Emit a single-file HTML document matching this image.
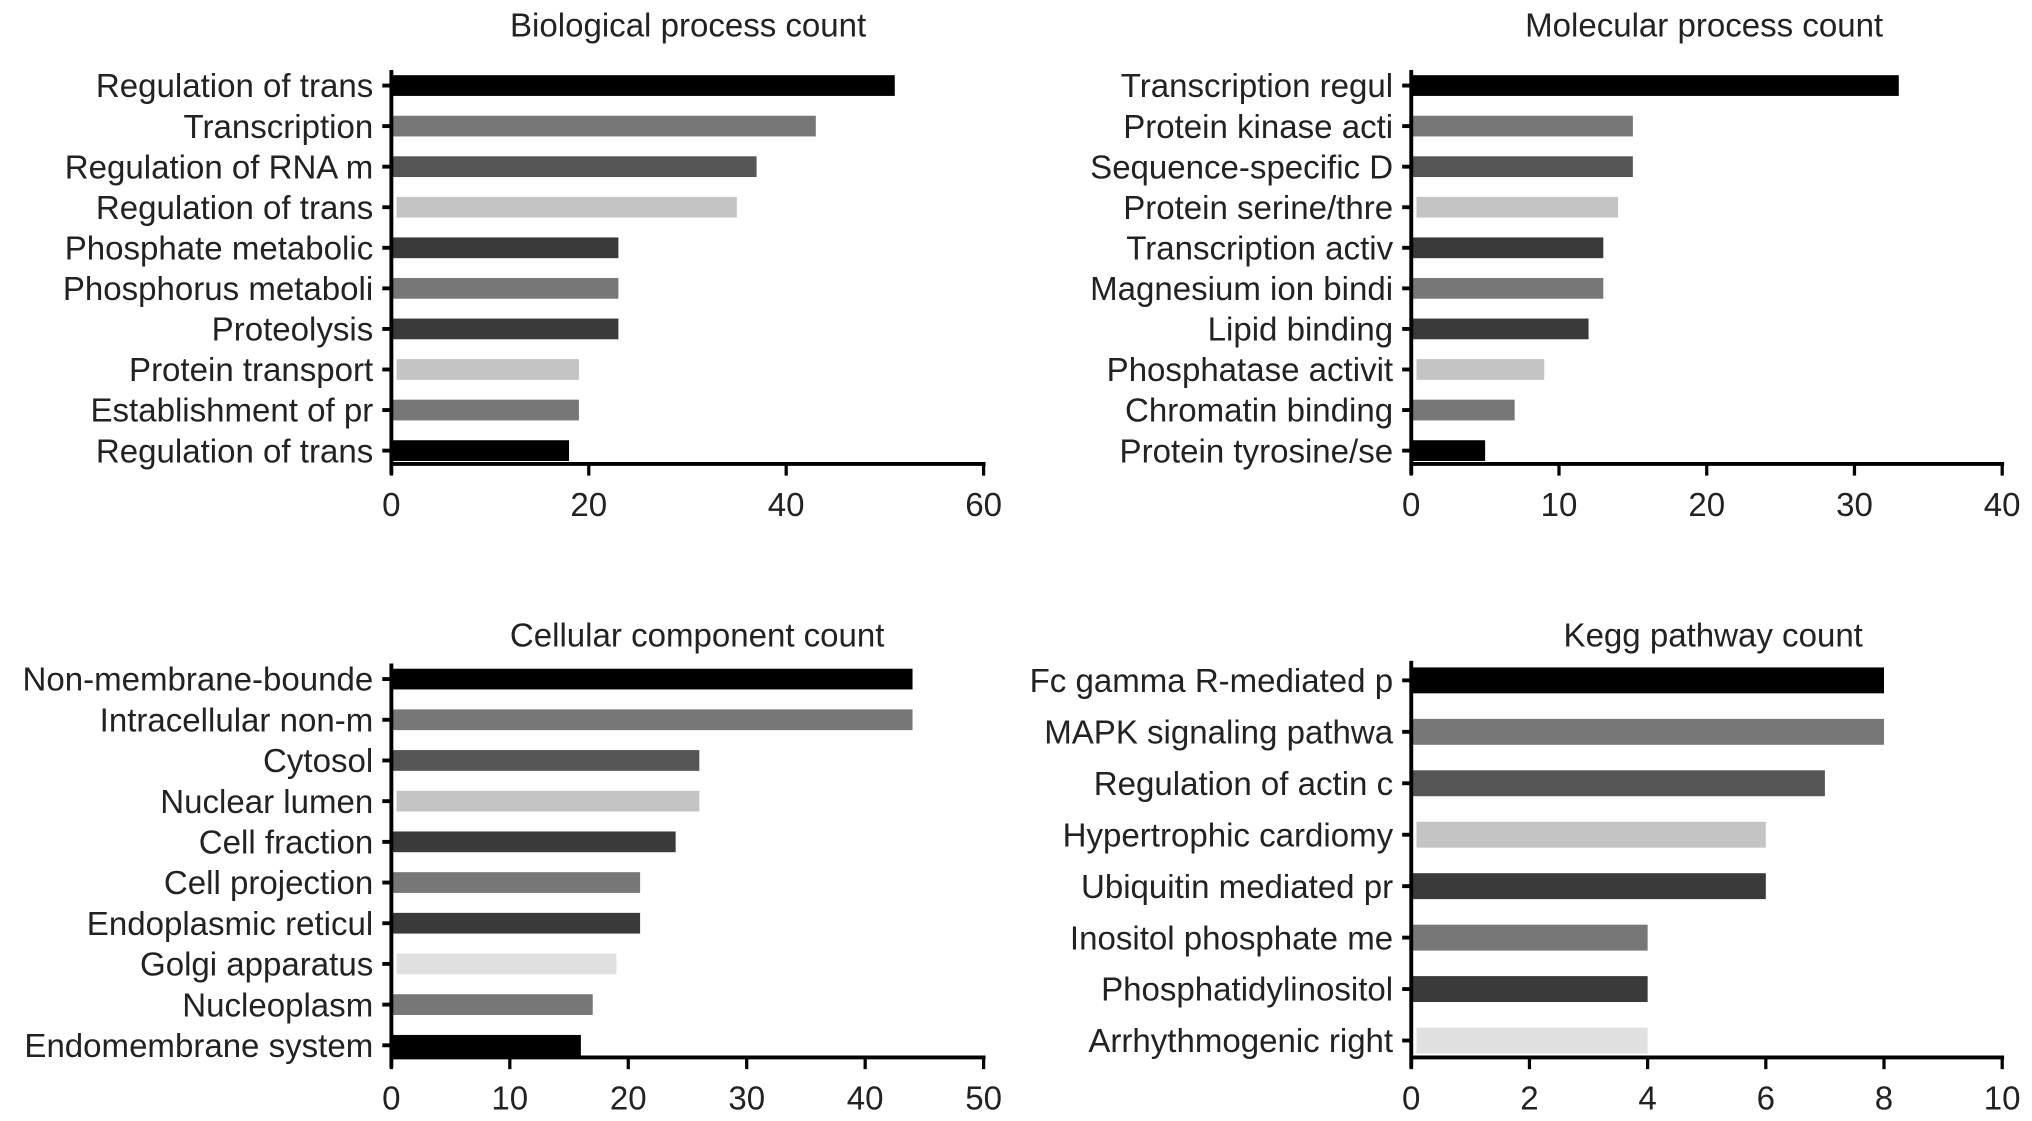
<!DOCTYPE html>
<html><head><meta charset="utf-8">
<style>html,body{margin:0;padding:0;background:#fff;}svg{display:block;}</style>
</head><body>
<svg id="chart" width="2032" height="1121" viewBox="0 0 1568 865" xmlns="http://www.w3.org/2000/svg" font-family="Liberation Sans, sans-serif"></svg>
<script>
const bpCategories = ["Regulation of trans","Transcription","Regulation of RNA m","Regulation of trans","Phosphate metabolic","Phosphorus metaboli","Proteolysis","Protein transport","Establishment of pr","Regulation of trans"];
const bpValues = [51,43,37,35,23,23,23,19,19,18];
const bpTicks = [0,20,40,60];
const mfCategories = ["Transcription regul","Protein kinase acti","Sequence-specific D","Protein serine/thre","Transcription activ","Magnesium ion bindi","Lipid binding","Phosphatase activit","Chromatin binding","Protein tyrosine/se"];
const mfValues = [33,15,15,14,13,13,12,9,7,5];
const mfTicks = [0,10,20,30,40];
const ccCategories = ["Non-membrane-bounde","Intracellular non-m","Cytosol","Nuclear lumen","Cell fraction","Cell projection","Endoplasmic reticul","Golgi apparatus","Nucleoplasm","Endomembrane system"];
const ccValues = [44,44,26,26,24,21,21,19,17,16];
const ccTicks = [0,10,20,30,40,50];
const keggCategories = ["Fc gamma R-mediated p","MAPK signaling pathwa","Regulation of actin c","Hypertrophic cardiomy","Ubiquitin mediated pr","Inositol phosphate me","Phosphatidylinositol","Arrhythmogenic right"];
const keggValues = [8,8,7,6,6,4,4,4];
const keggTicks = [0,2,4,6,8,10];

const svg = document.getElementById('chart');
const NS = 'http://www.w3.org/2000/svg';
function mk(tag, attrs, parent){const e=document.createElementNS(NS,tag);for(const k in attrs)e.setAttribute(k,attrs[k]);(parent||svg).appendChild(e);return e;}
const FS = 25.5;
function panel(key, title, cats, vals, ticks, colors, cfg){
  const g = mk('g',{});
  
  
  const max = ticks[ticks.length-1];
  const x = v => cfg.x0 + (cfg.x1-cfg.x0)*v/max;
  const y = i => cfg.yFirst + i*cfg.step;
  const t = mk('text',{x:cfg.tx,y:cfg.ty,'text-anchor':'middle','font-size':FS,fill:'#222'},g);
  t.textContent = title;
  
  
  cats.forEach((c,i)=>{
    const light = colors[i]==='#c4c4c4'||colors[i]==='#e0e0e0';
    const r = mk('rect',{x:x(0)+(light?4:0),y:y(i)-cfg.bh/2,width:Math.max(0,x(vals[i])-x(0)-(light?4:0)),height:cfg.bh,fill:colors[i]},g);
    
    
    mk('line',{x1:x(0)-7,x2:x(0),y1:y(i),y2:y(i),stroke:'#000','stroke-width':3},g);
    const l = mk('text',{x:x(0)-14,y:y(i)+9,'text-anchor':'end','font-size':FS,fill:'#222'},g);
    l.textContent = c;
    
    
  });
  const ax = mk('line',{x1:x(0),x2:x(0),y1:cfg.top,y2:cfg.base+8,stroke:'#000','stroke-width':3},g);
  
  
  const xa = mk('line',{x1:x(0),x2:x(max)+1.5,y1:cfg.base,y2:cfg.base,stroke:'#000','stroke-width':3},g);
  
  
  ticks.forEach(v=>{
    mk('line',{x1:x(v),x2:x(v),y1:cfg.base,y2:cfg.base+9,stroke:'#000','stroke-width':2.5},g);
    const tl = mk('text',{x:x(v),y:cfg.base+40,'text-anchor':'middle','font-size':FS,fill:'#222'},g);
    tl.textContent = v;
    
    
  });
}
const c10 = ['#000','#777','#555','#c4c4c4','#3a3a3a','#777','#3a3a3a','#c4c4c4','#777','#000'];
const c10b = ['#000','#777','#555','#c4c4c4','#3a3a3a','#777','#3a3a3a','#e0e0e0','#777','#000'];
const c8 = ['#000','#777','#555','#c4c4c4','#3a3a3a','#777','#3a3a3a','#e0e0e0'];
panel('biological-process','Biological process count',bpCategories,bpValues,bpTicks,c10,{x0:302,x1:759,yFirst:66,step:31.3,bh:16,top:54,base:358,tx:531,ty:28});
panel('molecular-process','Molecular process count',mfCategories,mfValues,mfTicks,c10,{x0:1089,x1:1545,yFirst:66,step:31.3,bh:16,top:54,base:358,tx:1315,ty:28});
panel('cellular-component','Cellular component count',ccCategories,ccValues,ccTicks,c10b,{x0:302,x1:759,yFirst:524,step:31.4,bh:16,top:512,base:816,tx:538,ty:499});
panel('kegg-pathway','Kegg pathway count',keggCategories,keggValues,keggTicks,c8,{x0:1089,x1:1545,yFirst:525,step:39.7,bh:20,top:510,base:816,tx:1322,ty:499});
</script>
</body></html>
